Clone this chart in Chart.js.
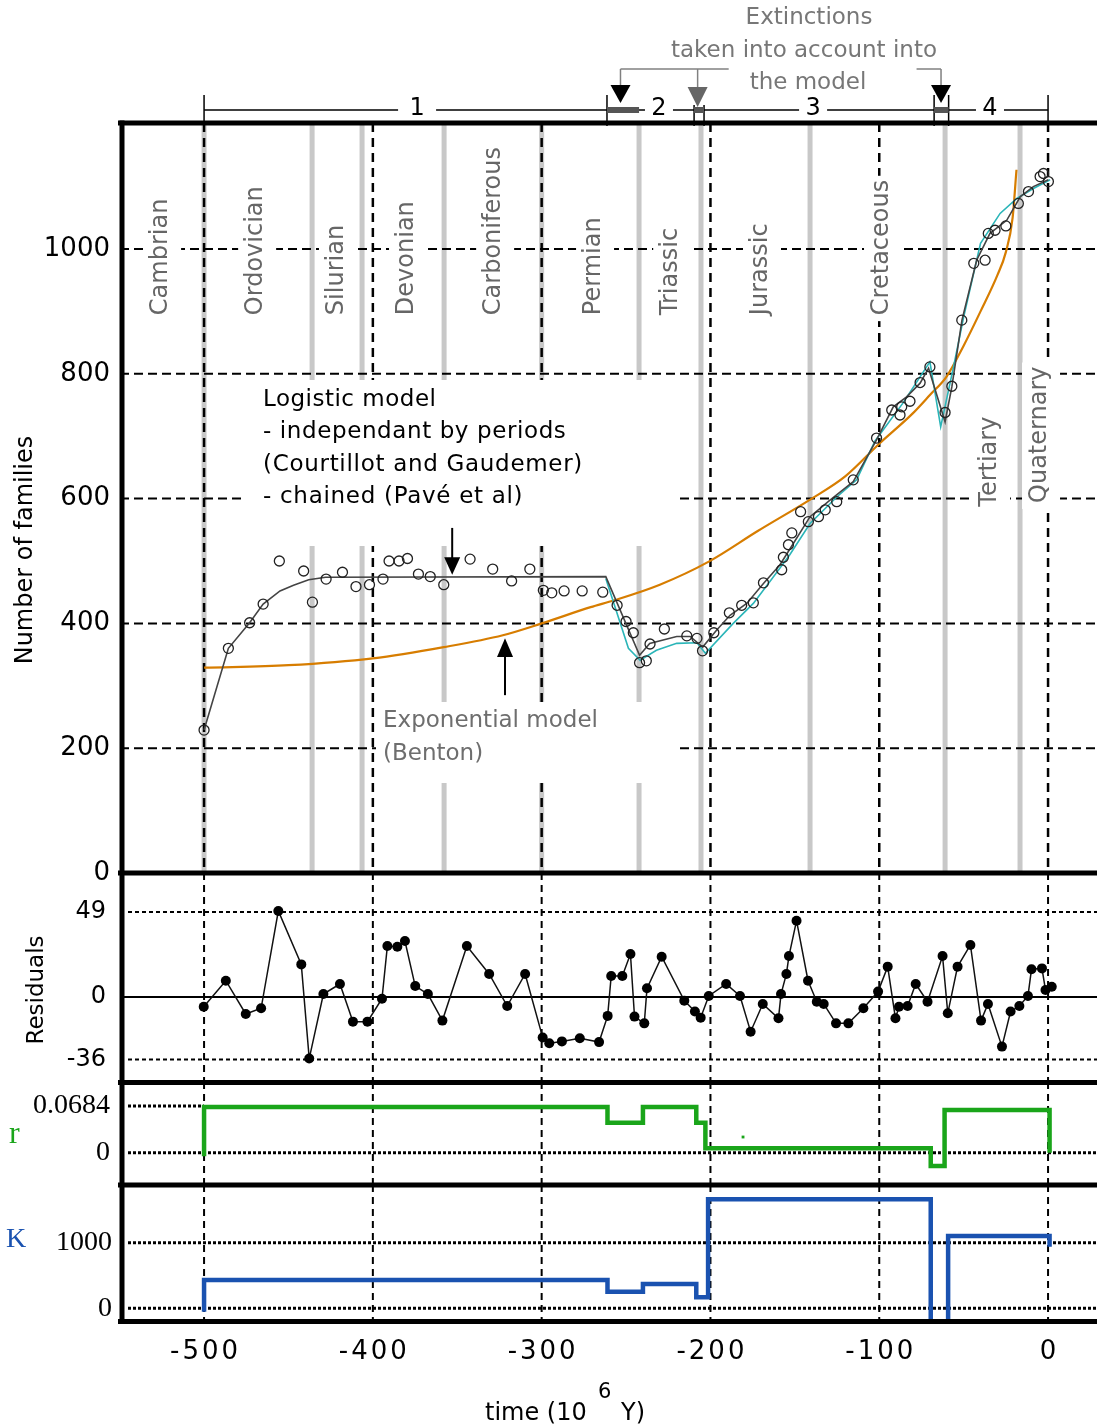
<!DOCTYPE html>
<html>
<head>
<meta charset="utf-8">
<script src="https://cdn.jsdelivr.net/npm/chart.js@4.4.1/dist/chart.umd.min.js"></script>
<style>
  html, body { margin: 0; padding: 0; background: #fff; }
  #wrap { position: relative; width: 1097px; height: 1427px; }
  #wrap canvas { position: absolute; left: 0; top: 0; }
</style>
</head>
<body>
<div id="wrap">
  <canvas id="cMain" width="1097" height="1427"></canvas>
  <canvas id="cRes" width="1097" height="1427"></canvas>
  <canvas id="cR" width="1097" height="1427"></canvas>
  <canvas id="cK" width="1097" height="1427"></canvas>
</div>
<script>
// --- data (time in 10^6 years) ---
const xTicks = [-500, -400, -300, -200, -100, 0];
const familyTicks = [0, 200, 400, 600, 800, 1000];
const residTicks = [-36, 0, 49];
const rTicks = [0, 0.0684];
const rTickLabels = ["0", "0.0684"];
const kTicks = [0, 1000];

const periodNames = ["Cambrian", "Ordovician", "Silurian", "Devonian", "Carboniferous", "Permian",
                     "Triassic", "Jurassic", "Cretaceous", "Tertiary", "Quaternary"];
const periodLabelAt = [-521.9, -465.6, -417.7, -376.2, -324.6, -265.4, -219.7, -166.5, -94.8, -30.8, -1.2];
const periodLabelBase = [894, 894, 894, 894, 894, 894, 894, 894, 894, 587, 593];
const periodBounds = [-500, -436, -406.4, -357.8, -300, -242.3, -205.6, -141, -61, -16.6];

const obsTime = [-500, -485.6, -473, -465, -455.4, -441, -435.8, -427.7, -418, -410, -402, -394, -390.4, -384.5,
  -379.5, -373, -366, -358, -342.4, -329, -317.8, -307, -299, -294, -286.7, -276, -263.8, -255.3, -250, -245.7,
  -242, -238, -235.8, -227.3, -214, -208, -204.7, -198, -188.8, -181.5, -174.6, -168.6, -157.8, -156.8, -153.8,
  -151.8, -146.6, -142, -136, -132, -125.2, -115.4, -101.6, -92.6, -87.7, -86.7, -81.8, -75.8, -70, -61, -57,
  -51.1, -44, -37.3, -35.4, -31.4, -25, -17.6, -11.6, -4.7, -2.7, 0.2];
const obsFamilies = [229, 360, 401, 431, 500, 484, 434, 471, 482, 459, 462, 471, 500, 500,
  504, 479, 475, 462, 503, 487, 468, 487, 453, 449, 452, 452, 450, 429, 403, 385,
  337, 340, 367, 391, 380, 376, 356, 385, 417, 429, 433, 465, 486, 506, 526,
  545, 579, 563, 571, 582, 595, 630, 697, 742, 734, 747, 756, 786, 811, 738, 780,
  886, 977, 982, 1025, 1030, 1037, 1073, 1092, 1116, 1121, 1108];

const logisticTime = [-500, -485.6, -473, -465, -455, -447, -438, -428, -262, -242, -236, -220, -212, -204.6,
  -196.4, -188.4, -178.5, -168.6, -158.8, -150.9, -141, -129, -115.4, -101.6, -91.7, -83.8, -75.8, -70.8,
  -61, -57, -51, -42.3, -34.4, -24.5, -16.4, -8.7, 0.2];
const logisticFit = [229, 360, 401, 431, 452, 461, 470, 474, 475, 349, 368, 379, 379, 362,
  389, 413, 432, 464, 494, 528, 571, 598, 627, 694, 747, 763, 785, 809,
  723, 779, 886, 982, 1025, 1046, 1084, 1100, 1111];

const chainedTime = [-262, -248.6, -241.7, -232, -220, -208, -203, -186.5, -174.6, -164, -153, -141, -125,
  -113.4, -102.6, -86, -70, -63.6, -56, -50, -40, -28.4, -18.5, -8.7, 1.2];
const chainedFit = [472, 360, 341, 357, 368, 369, 352, 400, 432, 470, 510, 560, 603,
  630, 692, 753, 819, 715, 811, 891, 1009, 1057, 1081, 1097, 1111];

const expTime = [-500, -450, -400, -358, -323, -300, -271, -257, -230, -201, -172, -140, -120, -100, -80,
  -70, -60, -50, -40, -30, -25, -21, -18.7];
const expFit = [329, 333, 344, 362, 381, 400, 426, 437, 462, 499, 548, 600, 636, 688, 737,
  766, 796, 845, 900, 958, 995, 1050, 1127];

const residTime = [-500.2, -487.1, -475.3, -466.2, -456, -442.4, -437.7, -429.3, -419.5, -411.8, -403.2,
  -394.6, -391.4, -385.5, -381, -374.9, -367.4, -358.8, -344.3, -331.1, -320.4, -309.8, -299.4, -295.5,
  -288, -277.4, -266, -260.9, -258.8, -252.2, -247.4, -245, -239.2, -237.6, -228.9, -215.5, -209.2,
  -205.8, -201, -190.7, -182.5, -176.2, -169, -159.7, -158.2, -155, -153.5, -149, -142.2, -137, -132.9,
  -125.6, -118.3, -109.4, -100.7, -95, -90.4, -88.3, -83.2, -78.4, -71.4, -62.5, -59.4, -53.6, -46,
  -39.7, -35.6, -27.3, -22.2, -17, -11.9, -9.8, -3.6, -1.5, 2.2];
const residValue = [-5.6, 9.4, -9.8, -6.5, 49.6, 18.8, -35.5, 1.7, 7.5, -14.2, -14.2,
  -1, 29.4, 29, 32.3, 6.3, 1.7, -13.6, 29.4, 13.3, -5.2, 13.3, -23.3, -26.7,
  -25.6, -23.8, -26, -10.9, 12.1, 12.1, 24.8, -11.3, -15.2, 5, 23.2, -2.1, -8.4,
  -11.9, 0.6, 7.5, 0.6, -20, -4, -12.3, 1.7, 13.3, 23.6, 44, 9.4, -2.7, -4,
  -15.2, -15.2, -6.5, 3.1, 17.5, -12.3, -5.6, -5.2, 7.5, -2.7, 23.6, -9.4, 17.5, 30,
  -13.6, -4, -28.6, -8.4, -5.2, 0.6, 16, 16.5, 4, 5.9];

const rBreaks = [-500, -261, -240, -208.4, -203, -69.5, -61.3, 0.9];
const rValues = [0.067, 0.044, 0.067, 0.044, 0.0064, -0.0195, 0.0626];
const rStart = -0.005, rEnd = 0;
const rDotTime = [-180.7];
const rDotValue = [0.023];

const kBreaks = [-500, -261, -240, -208.4, -201.4, -69.5, -59.2, 0.9];
const kValues = [431, 253, 370, 168, 1662, -400, 1102];
const kStart = -52, kEnd = 940;

const extinctions = [[-261.3, -242.3], [-209.7, -203.8], [-67.5, -58.9]];
const sectionNames = ["1", "2", "3", "4"];
const sectionAt = [-373.8, -230.5, -139.2, -34.4];

const X_MIN = -549.8, X_MAX = 29.0;
const H = 1427;
const SANS = "DejaVu Sans";
const SERIF = "Liberation Serif";

// --- helpers ---
function pts(xs, ys) {
    return xs.map((x, i) => ({ x: x, y: ys[i] }));
}

function stepPts(breaks, values, startY, endY) {
    const out = [{ x: breaks[0], y: startY }];
    values.forEach((v, i) => {
        out.push({ x: breaks[i], y: v });
        out.push({ x: breaks[i + 1], y: v });
    });
    out.push({ x: breaks[breaks.length - 1], y: endY });
    return out;
}

function seg(ctx, x0, y0, x1, y1, lw, dash, color) {
    ctx.save();
    ctx.beginPath();
    ctx.strokeStyle = color || "#000";
    ctx.lineWidth = lw;
    ctx.setLineDash(dash || []);
    ctx.moveTo(x0, y0);
    ctx.lineTo(x1, y1);
    ctx.stroke();
    ctx.restore();
}

function text(ctx, s, x, y, font, color, align, baseline, spacing) {
    ctx.save();
    ctx.font = font;
    ctx.fillStyle = color || "#000";
    ctx.textAlign = align || "left";
    ctx.textBaseline = baseline || "middle";
    if (spacing) ctx.letterSpacing = spacing;
    ctx.fillText(s, x, y);
    ctx.restore();
}

function vText(ctx, s, x, y, font, color, align, baseline) {
    ctx.save();
    ctx.translate(x, y);
    ctx.rotate(-Math.PI / 2);
    text(ctx, s, 0, 0, font, color, align, baseline);
    ctx.restore();
}

function triangle(ctx, x, baseY, tipY, half, color) {
    ctx.save();
    ctx.fillStyle = color;
    ctx.beginPath();
    ctx.moveTo(x - half, baseY);
    ctx.lineTo(x + half, baseY);
    ctx.lineTo(x, tipY);
    ctx.closePath();
    ctx.fill();
    ctx.restore();
}

function verticalGrid(chart, lw, dash) {
    const { ctx, chartArea, scales } = chart;
    xTicks.forEach(t => {
        const x = scales.x.getPixelForValue(t);
        seg(ctx, x, chartArea.top, x, chartArea.bottom, lw, dash);
    });
}

function makeChart(id, top, bottom, yMin, yMax, yTicks, tickFont, tickPad, tickLabels, datasets, deco) {
    return new Chart(document.getElementById(id), {
        type: "scatter",
        data: { datasets: datasets },
        options: {
            responsive: false,
            animation: false,
            devicePixelRatio: 1,
            events: [],
            layout: { autoPadding: false, padding: { top: top, bottom: H - bottom, left: 0, right: 0 } },
            plugins: { legend: { display: false }, tooltip: { enabled: false } },
            scales: {
                x: { type: "linear", min: X_MIN, max: X_MAX, display: false },
                y: {
                    type: "linear", min: yMin, max: yMax,
                    grid: { display: false, drawTicks: false },
                    border: { display: false },
                    afterFit: s => { s.width = 120; },
                    afterBuildTicks: s => { s.ticks = yTicks.map(v => ({ value: v })); },
                    ticks: {
                        font: tickFont, color: "#000", padding: tickPad,
                        callback: (v, i) => tickLabels ? tickLabels[i] : String(v)
                    }
                }
            }
        },
        plugins: [deco]
    });
}

// --- main panel: number of families ---
const mainDeco = {
    id: "mainDeco",
    beforeDatasetsDraw(chart) {
        const { ctx, chartArea, scales } = chart;
        const X = t => scales.x.getPixelForValue(t);
        const Y = v => scales.y.getPixelForValue(v);

        // geological period boundaries
        periodBounds.forEach(t => seg(ctx, X(t), chartArea.top, X(t), chartArea.bottom, 5, [], "#c8c8c8"));
        // horizontal dashed grid
        familyTicks.slice(1).forEach(v => seg(ctx, chartArea.left, Y(v), chartArea.right, Y(v), 2, [9, 5]));
        verticalGrid(chart, 2.5, [9, 6]);

        // white boxes behind the text blocks
        ctx.save();
        ctx.fillStyle = "#fff";
        ctx.fillRect(245, 380, 432, 166);
        ctx.fillRect(376, 702, 302, 81);
        ctx.font = "24px " + SANS;
        periodNames.forEach((name, i) => {
            const bx = X(periodLabelAt[i]);
            const by = Y(periodLabelBase[i]);
            const w = ctx.measureText(name).width;
            ctx.fillRect(bx - 24, by - w - 4, 38, w + 10);
        });
        ctx.restore();

        periodNames.forEach((name, i) => {
            vText(ctx, name, X(periodLabelAt[i]), Y(periodLabelBase[i]), "24px " + SANS, "#666", "left", "alphabetic");
        });

        // model annotations
        const f = "23px " + SANS;
        text(ctx, "Logistic model", 263, 406, f, "#000", "left", "alphabetic", "0.5px");
        text(ctx, "- independant by periods", 263, 438, f, "#000", "left", "alphabetic", "0.6px");
        text(ctx, "(Courtillot and Gaudemer)", 263, 471, f, "#000", "left", "alphabetic", "0.7px");
        text(ctx, "- chained (Pavé et al)", 263, 503, f, "#000", "left", "alphabetic", "0.7px");
        text(ctx, "Exponential model", 383, 727, f, "#6e6e6e", "left", "alphabetic");
        text(ctx, "(Benton)", 383, 760, f, "#6e6e6e", "left", "alphabetic");

        // arrows to the curves
        const ax1 = X(-353), ax2 = X(-321.7);
        seg(ctx, ax1, Y(553), ax1, Y(503), 2);
        triangle(ctx, ax1, Y(506), Y(478), 8, "#000");
        seg(ctx, ax2, Y(285), ax2, Y(350), 2);
        triangle(ctx, ax2, Y(346), Y(376), 8, "#000");
    },
    afterDraw(chart) {
        const { ctx, scales } = chart;
        const X = t => scales.x.getPixelForValue(t);

        // period ruler above the chart
        const ry = 110;
        seg(ctx, X(-500), ry, X(0), ry, 1.5);
        [-500, -261.3, -67.5, -58.9, 0].forEach(t => seg(ctx, X(t), 95, X(t), 126, 1.5));
        [-209.7, -203.8].forEach(t => seg(ctx, X(t), 105, X(t), 126, 1.5));
        extinctions.forEach(e => seg(ctx, X(e[0]), ry, X(e[1]), ry, 6, [], "#555"));
        ctx.save();
        ctx.fillStyle = "#fff";
        sectionNames.forEach((s, i) => {
            const w = i === 0 ? 38 : 28;
            ctx.fillRect(X(sectionAt[i]) - w / 2, ry - 4, w, 8);
        });
        ctx.restore();
        sectionNames.forEach((s, i) => text(ctx, s, X(sectionAt[i]), 109, "24px " + SANS, "#000", "center", "middle"));

        // extinction arrows
        const g = "#808080";
        const a1 = X(-253.3), a2 = X(-207.6), a3 = X(-63.4);
        seg(ctx, a1, 69, X(-189.2), 69, 1.5, [], g);
        seg(ctx, a1, 69, a1, 86, 1.5, [], g);
        triangle(ctx, a1, 85, 103, 10, "#000");
        seg(ctx, a2, 69, a2, 88, 1.5, [], g);
        triangle(ctx, a2, 87, 107, 10, "#666");
        seg(ctx, X(-77.9), 69, a3, 69, 1.5, [], g);
        seg(ctx, a3, 69, a3, 86, 1.5, [], g);
        triangle(ctx, a3, 85, 103, 10, "#000");

        const f = "23px " + SANS;
        text(ctx, "Extinctions", 809, 18, f, "#777", "center", "middle");
        text(ctx, "taken into account into", 804, 51, f, "#777", "center", "middle");
        text(ctx, "the model", 808, 83, f, "#777", "center", "middle");

        vText(ctx, "Number of families", 26, 550, "24px " + SANS, "#000", "center", "middle");
    }
};

makeChart("cMain", 123, 873, 0, 1201.9, familyTicks, { family: SANS, size: 26 }, 10, null, [
    {
        data: pts(obsTime, obsFamilies), showLine: false,
        pointRadius: 5, pointBorderWidth: 1.3, pointBorderColor: "#222",
        pointBackgroundColor: "rgba(0,0,0,0)"
    },
    {
        data: pts(logisticTime, logisticFit), showLine: true, pointRadius: 0,
        borderColor: "#444", borderWidth: 1.6, tension: 0
    },
    {
        data: pts(chainedTime, chainedFit), showLine: true, pointRadius: 0,
        borderColor: "#2ab5b8", borderWidth: 1.6, tension: 0
    },
    {
        data: pts(expTime, expFit), showLine: true, pointRadius: 0,
        borderColor: "#d77d00", borderWidth: 2.2, cubicInterpolationMode: "monotone"
    }
], mainDeco);

// --- residuals ---
const resDeco = {
    id: "resDeco",
    beforeDatasetsDraw(chart) {
        const { ctx, chartArea, scales } = chart;
        const Y = v => scales.y.getPixelForValue(v);
        [49, -36].forEach(v => seg(ctx, 128, Y(v), chartArea.right, Y(v), 2, [4, 3]));
        seg(ctx, chartArea.left, Y(0), chartArea.right, Y(0), 2.2);
        verticalGrid(chart, 2, [7, 5]);
        vText(ctx, "Residuals", 37, 990, "23px " + SANS, "#000", "center", "middle");
    }
};

makeChart("cRes", 873, 1082, -49.0, 71.48, residTicks, { family: SANS, size: 24 }, 14, null, [
    {
        data: pts(residTime, residValue), showLine: true,
        borderColor: "#111", borderWidth: 1.5, tension: 0,
        pointRadius: 5, pointBorderWidth: 0, pointBackgroundColor: "#000"
    }
], resDeco);

// --- r (growth rate) ---
const rDeco = {
    id: "rDeco",
    beforeDatasetsDraw(chart) {
        const { ctx, chartArea, scales } = chart;
        const Y = v => scales.y.getPixelForValue(v);
        seg(ctx, 128, Y(0.0684), scales.x.getPixelForValue(-500), Y(0.0684), 3, [3, 2]);
        seg(ctx, 128, Y(0), chartArea.right, Y(0), 3, [3, 2]);
        verticalGrid(chart, 2, [7, 5]);
        text(ctx, "r", 9, 1135, "32px " + SERIF, "#1aa51a", "left", "middle");
    }
};

makeChart("cR", 1082, 1185, -0.0473, 0.1036, rTicks, { family: SERIF, size: 28 }, 10, rTickLabels, [
    {
        data: pts(rDotTime, rDotValue), showLine: false,
        pointStyle: "rect", pointRadius: 2, pointBorderWidth: 0, pointBackgroundColor: "#1aa51a"
    },
    {
        data: stepPts(rBreaks, rValues, rStart, rEnd), showLine: true, pointRadius: 0,
        borderColor: "#1aa51a", borderWidth: 4.5, tension: 0, borderJoinStyle: "miter"
    }
], rDeco);

// --- K (carrying capacity) + shared x axis + frame ---
const kDeco = {
    id: "kDeco",
    beforeDatasetsDraw(chart) {
        const { ctx, chartArea, scales } = chart;
        const Y = v => scales.y.getPixelForValue(v);
        kTicks.forEach(v => seg(ctx, 128, Y(v), chartArea.right, Y(v), 3, [3, 2]));
        verticalGrid(chart, 2, [7, 5]);
        text(ctx, "K", 6, 1240, "28px " + SERIF, "#1a52b0", "left", "middle");
    },
    afterDraw(chart) {
        const { ctx, scales } = chart;
        // x tick labels
        xTicks.forEach(t => {
            text(ctx, String(t), scales.x.getPixelForValue(t) + 1.5, 1352, "26px " + SANS, "#000", "center", "middle", "3px");
        });
        text(ctx, "time (10", 485, 1420, "24px " + SANS, "#000", "left", "alphabetic");
        text(ctx, "6", 598, 1398, "21px " + SANS, "#000", "left", "alphabetic");
        text(ctx, "Y)", 621, 1420, "24px " + SANS, "#000", "left", "alphabetic");

        // thick panel frame
        [123, 873, 1082.5, 1185, 1321.5].forEach(y => seg(ctx, 118, y, 1097, y, 5));
        seg(ctx, 122, 120.5, 122, 1324, 5);
    }
};

makeChart("cK", 1185, 1322, -209, 1880, kTicks, { family: SERIF, size: 28 }, 8, null, [
    {
        data: stepPts(kBreaks, kValues, kStart, kEnd), showLine: true, pointRadius: 0,
        borderColor: "#1a52b0", borderWidth: 4.5, tension: 0, borderJoinStyle: "miter"
    }
], kDeco);
</script>
</body>
</html>
